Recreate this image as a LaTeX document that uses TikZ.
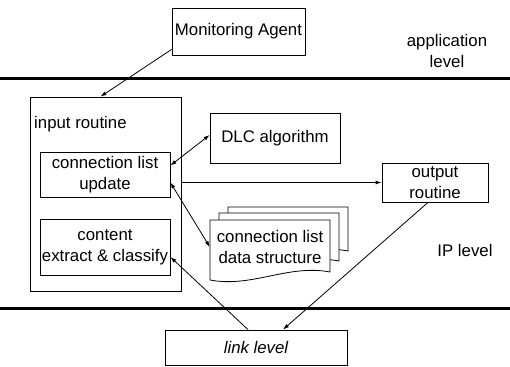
\documentclass[tikz,border=0pt]{standalone}
\usepackage{fontspec}
\setmainfont{Liberation Sans}
\usepackage{tikz}
\usetikzlibrary{calc,arrows.meta}
\def\boxLine{(0.8pt)}
\def\levelLine{(3pt)}
\def\fScale{\fontsize{16.8}{21}\selectfont}
\def\tipLen{6pt}
\tikzset{blk/.style={draw=black,line width=\boxLine,inner sep=0,align=center,font=\fScale}}
\tikzset{lbl/.style={inner sep=0,align=center,font=\fScale}}
\tikzset{con/.style={black,line width=\boxLine,-{Latex[length=\tipLen,width=4pt]}}}
\tikzset{dcon/.style={black,line width=\boxLine,{Latex[length=\tipLen,width=4pt]}-{Latex[length=\tipLen,width=4pt]}}}
\tikzset{sheet/.style={draw=black,fill=white,line width=\boxLine}}
\newcommand{\sheet}[4]{\draw[sheet] (#1,#2) -- (#1+#3,#2) -- (#1+#3,#2+#4-8) .. controls (#1+0.65*#3,#2+#4-16) and (#1+0.35*#3,#2+#4+8) .. (#1,#2+#4) -- cycle;}

\begin{document}
\begin{tikzpicture}[x=1pt,y=-1pt]\useasboundingbox (0,0) rectangle (510,366);
\draw[black,line width=\levelLine] (0,79) -- (510,79);\draw[black,line width=\levelLine] (0,308) -- (510,308);
\node[blk,minimum width=133,minimum height=47] (agent) at (238.5,31.5) {Monitoring Agent};
\node[lbl] (app) at (447,51) {application\\level};
\node[lbl] (ipl) at (465,250) {IP level};
\node[draw=black,line width=\boxLine,minimum width=151,minimum height=194,inner sep=0] (inrt) at (105.5,194) {};
\node[lbl,anchor=west] (inlbl) at (34,124) {input routine};
\node[blk,minimum width=130,minimum height=45] (cupd) at (105,174.5) {connection list\\update};
\node[blk,minimum width=130,minimum height=56] (cext) at (105,247) {content\\extract \& classify};
\node[blk,minimum width=130,minimum height=50] (dlc) at (275,138) {DLC algorithm};
\node[blk,minimum width=106,minimum height=39] (output) at (435,182.5) {output\\routine};
% stacked sheets, back to front
\sheet{228}{207}{120}{52}\sheet{219}{213}{120}{56}\sheet{210}{220}{120}{60}
\node[lbl,minimum width=120,minimum height=56] (cdata) at (270,247) {connection list\\data structure};
\node[blk,minimum width=182,minimum height=35,font=\fScale\itshape] (link) at (256,347.5) {link level};
\draw[con] (agent.195) -- ($(inrt.north)+(-5,0)$);
\draw[dcon] ($(cupd.east)+(0,-9)$) -- ($(dlc.west)+(0,-3)$);
\draw[con] (inrt.east |- output.west) -- (output.west);
\draw[dcon] ($(cupd.east)+(0,8)$) -- (cdata.west);
\draw[con] ($(link.north)+(-8,0)$) -- ($(cext.east)+(0,10)$);
\draw[con] ($(output.south)+(-7,0)$) -- ($(link.north)+(27,0)$);
\end{tikzpicture}
\end{document}
